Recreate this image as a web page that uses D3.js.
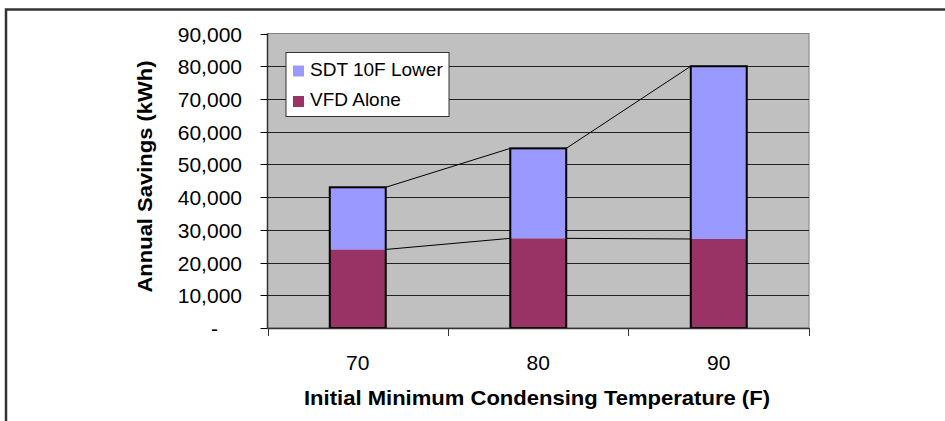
<!DOCTYPE html>
<html>
<head>
<meta charset="utf-8">
<script src="https://cdn.jsdelivr.net/npm/d3@7"></script>
<style>
  body { margin: 0; background: #fff; }
  text { font-family: Arial, "Liberation Sans", sans-serif; fill: #000; }
</style>
</head>
<body>
<div id="chart"></div>
<script>
var categories = ["70", "80", "90"];
var vfdAlone = [24000, 27400, 27200];
var sdtLower = [19000, 27500, 52800];
var seriesNames = ["VFD Alone", "SDT 10F Lower"];
var seriesColours = ["#993366", "#9999FF"];
var yTicks = [0, 10000, 20000, 30000, 40000, 50000, 60000, 70000, 80000, 90000];

var W = 945, H = 421;
var pLeft = 267.5, pTop = 33.5, pRight = 809, pBottom = 328;

var svg = d3.select("#chart")
  .append("svg")
    .attr("width", W)
    .attr("height", H);

// outer chart border (only top and left show in the frame)
svg.append("path")
  .attr("d", "M6,430 L6,9.5 L950,9.5")
  .attr("fill", "none")
  .attr("stroke", "#333")
  .attr("stroke-width", 2.5);

var x = d3.scaleBand()
  .domain(categories)
  .range([pLeft, pRight])
  .paddingInner(0.69)
  .paddingOuter(0.345);

var xEdge = d3.scaleLinear().domain([0, categories.length]).range([pLeft, pRight]);

var y = d3.scaleLinear()
  .domain([0, 90000])
  .range([pBottom, pTop]);

// plot area
svg.append("rect")
  .attr("x", pLeft).attr("y", pTop)
  .attr("width", pRight - pLeft).attr("height", pBottom - pTop)
  .attr("fill", "#C0C0C0")
  .attr("stroke", "#808080")
  .attr("stroke-width", 1);

// gridlines
svg.append("g")
  .selectAll("line")
  .data(yTicks.filter(d => d > 0 && d < 90000))
  .enter()
  .append("line")
    .attr("x1", pLeft).attr("x2", pRight)
    .attr("y1", d => Math.round(y(d)) + 0.5)
    .attr("y2", d => Math.round(y(d)) + 0.5)
    .attr("stroke", "#222")
    .attr("stroke-width", 1);

// stacked data
var rows = categories.map((c, i) => ({ cat: c, vfd: vfdAlone[i], sdt: sdtLower[i] }));
var stack = d3.stack().keys(["vfd", "sdt"])(rows);

var layers = svg.append("g")
  .selectAll("g")
  .data(stack)
  .enter()
  .append("g")
    .attr("fill", (d, i) => seriesColours[i]);

layers.selectAll("rect")
  .data(d => d)
  .enter()
  .append("rect")
    .attr("x", d => x(d.data.cat))
    .attr("width", x.bandwidth())
    .attr("y", d => y(d[1]))
    .attr("height", d => y(d[0]) - y(d[1]))
    .attr("stroke", "none");

// bar outlines
svg.append("g")
  .selectAll("rect")
  .data(rows)
  .enter()
  .append("rect")
    .attr("x", d => x(d.cat))
    .attr("width", x.bandwidth())
    .attr("y", d => y(d.vfd + d.sdt))
    .attr("height", d => y(0) - y(d.vfd + d.sdt))
    .attr("fill", "none")
    .attr("stroke", "#000")
    .attr("stroke-width", 2);

// series lines
stack.forEach(layer => {
  for (var i = 0; i < layer.length - 1; i++) {
    svg.append("line")
      .attr("x1", x(layer[i].data.cat) + x.bandwidth())
      .attr("y1", y(layer[i][1]))
      .attr("x2", x(layer[i + 1].data.cat))
      .attr("y2", y(layer[i + 1][1]))
      .attr("stroke", "#000")
      .attr("stroke-width", 1);
  }
});

// y axis
var yAxis = svg.append("g");
yAxis.append("line")
  .attr("x1", pLeft).attr("x2", pLeft)
  .attr("y1", pTop).attr("y2", pBottom)
  .attr("stroke", "#333").attr("stroke-width", 1.5);
var fmt = d3.format(",");
var yt = yAxis.selectAll("g.tick")
  .data(yTicks)
  .enter()
  .append("g")
    .attr("transform", d => "translate(0," + (Math.round(y(d)) + 0.5) + ")");
yt.append("line")
  .attr("x1", pLeft - 7).attr("x2", pLeft)
  .attr("stroke", "#000");
yt.append("text")
  .attr("x", d => d === 0 ? 218 : 242)
  .attr("dy", "0.36em")
  .attr("text-anchor", "end")
  .style("font-size", "21px")
  .text(d => d === 0 ? "-" : fmt(d));

// x axis
var xAxis = svg.append("g");
xAxis.append("line")
  .attr("x1", pLeft).attr("x2", pRight)
  .attr("y1", pBottom + 0.5).attr("y2", pBottom + 0.5)
  .attr("stroke", "#333").attr("stroke-width", 1.5);
xAxis.selectAll("line.tick")
  .data(d3.range(categories.length + 1))
  .enter()
  .append("line")
    .attr("x1", d => Math.round(xEdge(d)) + 0.5)
    .attr("x2", d => Math.round(xEdge(d)) + 0.5)
    .attr("y1", pBottom).attr("y2", pBottom + 8)
    .attr("stroke", "#333");
xAxis.selectAll("text")
  .data(categories)
  .enter()
  .append("text")
    .attr("x", d => x(d) + x.bandwidth() / 2)
    .attr("y", 370)
    .attr("text-anchor", "middle")
    .style("font-size", "21px")
    .text(d => d);

// axis titles
svg.append("text")
  .attr("x", 537)
  .attr("y", 405)
  .attr("text-anchor", "middle")
  .attr("textLength", 466)
  .attr("lengthAdjust", "spacingAndGlyphs")
  .style("font-size", "21px")
  .style("font-weight", "bold")
  .text("Initial Minimum Condensing Temperature (F)");

svg.append("text")
  .attr("transform", "translate(152,176.5) rotate(-90)")
  .attr("text-anchor", "middle")
  .attr("textLength", 232)
  .attr("lengthAdjust", "spacingAndGlyphs")
  .style("font-size", "21px")
  .style("font-weight", "bold")
  .text("Annual Savings (kWh)");

// legend
var legend = svg.append("g");
legend.append("rect")
  .attr("x", 286).attr("y", 52.5)
  .attr("width", 163).attr("height", 64)
  .attr("fill", "#fff")
  .attr("stroke", "#333")
  .attr("stroke-width", 1);
var legendItems = [1, 0];
legendItems.forEach((s, i) => {
  legend.append("rect")
    .attr("x", 293).attr("y", 65.5 + i * 30.5)
    .attr("width", 11).attr("height", 11)
    .attr("fill", seriesColours[s]);
  legend.append("text")
    .attr("x", 310).attr("y", 75.5 + i * 30.5)
    .style("font-size", "19px")
    .text(seriesNames[s]);
});
</script>
</body>
</html>
